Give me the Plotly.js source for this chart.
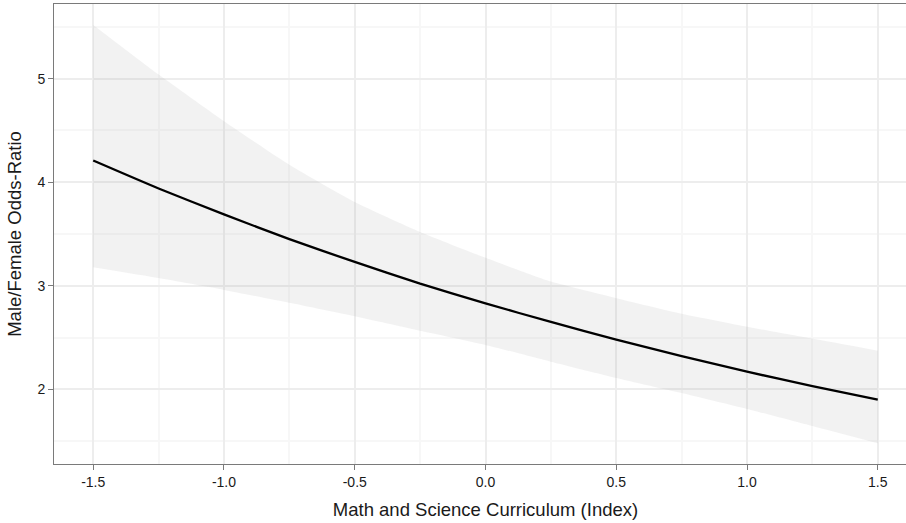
<!DOCTYPE html>
<html>
<head>
<meta charset="utf-8">
<script src="https://cdn.plot.ly/plotly-3.0.1.min.js"></script>
<style>
html, body { margin: 0; padding: 0; overflow: hidden; background: #ffffff; }
#chart { width: 917px; height: 523px; }
</style>
</head>
<body>
<div id="chart"></div>
<script>
// Curriculum index values (x)
const curriculum = [-1.5, -1.25, -1.0, -0.75, -0.5, -0.25, 0.0, 0.25, 0.5, 0.75, 1.0, 1.25, 1.5];
// Fitted male/female odds-ratio
const oddsRatio = [4.21, 3.94, 3.69, 3.45, 3.23, 3.02, 2.83, 2.65, 2.48, 2.32, 2.17, 2.03, 1.90];
// Confidence band
const upperBound = [5.52, 5.04, 4.59, 4.17, 3.81, 3.52, 3.27, 3.04, 2.88, 2.73, 2.605, 2.49, 2.373];
const lowerBound = [3.178, 3.074, 2.96, 2.835, 2.705, 2.565, 2.428, 2.267, 2.11, 1.964, 1.81, 1.645, 1.478];

// Tick labels
const xTickVals = [-1.5, -1.0, -0.5, 0.0, 0.5, 1.0, 1.5];
const xTickText = ["-1.5", "-1.0", "-0.5", "0.0", "0.5", "1.0", "1.5"];
const xMinorVals = [-1.25, -0.75, -0.25, 0.25, 0.75, 1.25];
const yTickVals = [2, 3, 4, 5];
const yTickText = ["2", "3", "4", "5"];
const yMinorVals = [1.5, 2.5, 3.5, 4.5, 5.5];

const FONT = "Liberation Sans, Arial, sans-serif";

const traces = [
  {
    x: curriculum, y: lowerBound, type: "scatter", mode: "lines",
    line: { width: 0, color: "rgba(0,0,0,0)", shape: "spline", smoothing: 0.5 }, hoverinfo: "skip", showlegend: false
  },
  {
    x: curriculum, y: upperBound, type: "scatter", mode: "lines",
    fill: "tonexty", fillcolor: "rgba(153,153,153,0.13)",
    line: { width: 0, color: "rgba(0,0,0,0)", shape: "spline", smoothing: 0.5 }, hoverinfo: "skip", showlegend: false
  },
  {
    x: curriculum, y: oddsRatio, type: "scatter", mode: "lines",
    line: { color: "#000000", width: 2.3, shape: "spline", smoothing: 0.6 }, showlegend: false
  }
];

const layout = {
  width: 917, height: 523,
  margin: { l: 54, r: 0, t: 4, b: 59 },
  paper_bgcolor: "#ffffff", plot_bgcolor: "#ffffff",
  font: { family: FONT, color: "#1a1a1a" },
  showlegend: false,
  xaxis: {
    range: [-1.65, 1.65],
    tickmode: "array", tickvals: xTickVals, ticktext: xTickText,
    ticks: "outside", ticklen: 5, tickwidth: 1, tickcolor: "#7a7a7a",
    tickfont: { family: FONT, size: 14, color: "#1a1a1a" },
    showline: true, mirror: true, linecolor: "#7a7a7a", linewidth: 1,
    showgrid: true, gridcolor: "#ededed", gridwidth: 2,
    minor: { tickmode: "array", tickvals: xMinorVals, showgrid: true, gridcolor: "#f7f7f7", gridwidth: 2, ticks: "" },
    zeroline: false,
    title: { text: "Math and Science Curriculum (Index)", font: { family: FONT, size: 18.5, color: "#1a1a1a" }, standoff: 14 }
  },
  yaxis: {
    range: [1.278, 5.722],
    tickmode: "array", tickvals: yTickVals, ticktext: yTickText,
    ticks: "outside", ticklen: 5, tickwidth: 1, tickcolor: "#7a7a7a",
    tickfont: { family: FONT, size: 14, color: "#1a1a1a" },
    showline: true, mirror: true, linecolor: "#7a7a7a", linewidth: 1,
    showgrid: true, gridcolor: "#ededed", gridwidth: 2,
    minor: { tickmode: "array", tickvals: yMinorVals, showgrid: true, gridcolor: "#f7f7f7", gridwidth: 2, ticks: "" },
    zeroline: false,
    title: { text: "Male/Female Odds-Ratio", font: { family: FONT, size: 18.5, color: "#1a1a1a" }, standoff: 10 }
  }
};

Plotly.newPlot("chart", traces, layout, { displayModeBar: false });
</script>
</body>
</html>
